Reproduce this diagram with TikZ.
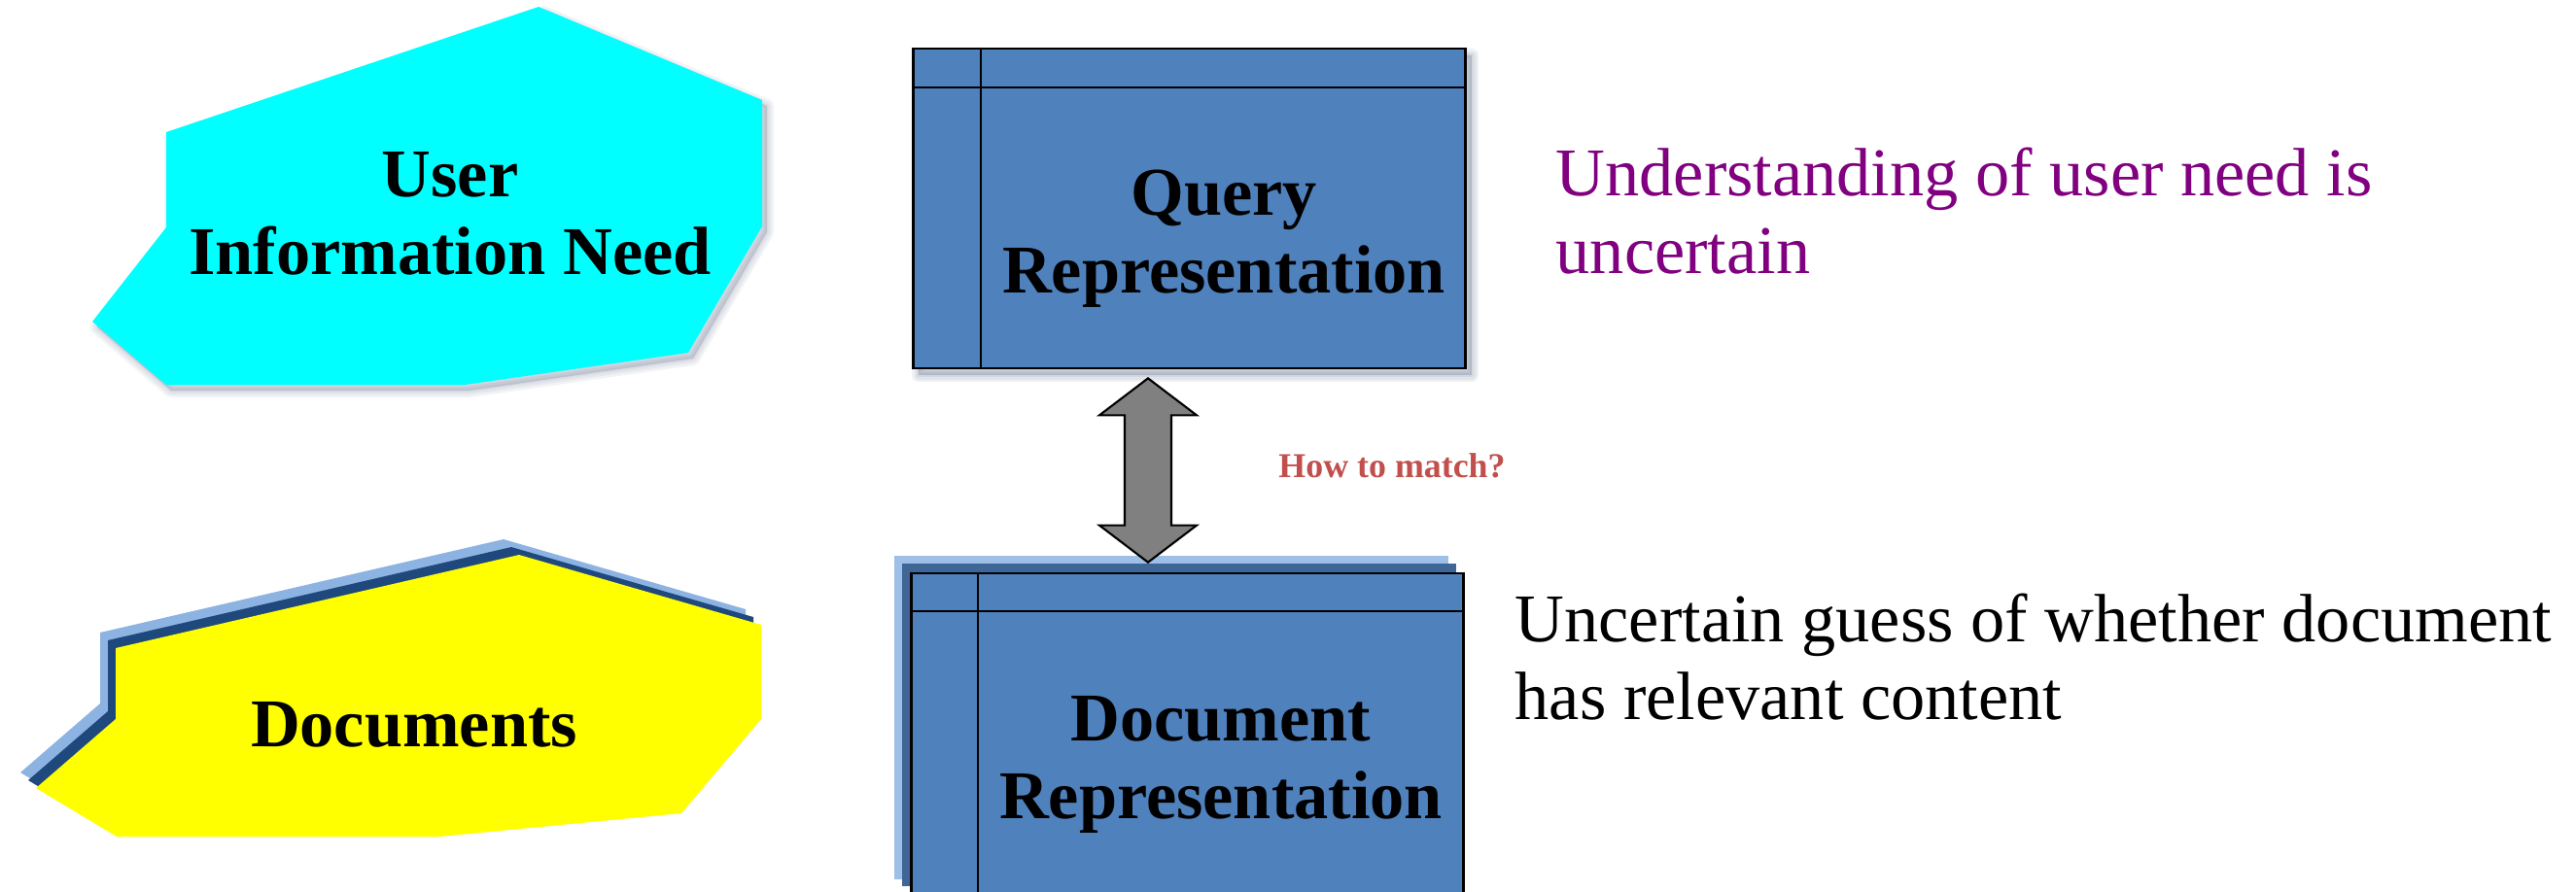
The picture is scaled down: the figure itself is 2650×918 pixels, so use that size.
\documentclass[tikz,border=0pt]{standalone}
\usepackage{fontspec}
\setmainfont{Liberation Serif}
\usetikzlibrary{calc,positioning}
\definecolor{needcyan}{RGB}{0,255,255}
\definecolor{docyellow}{RGB}{255,255,0}
\definecolor{repblue}{RGB}{79,129,189}
\definecolor{stackdark}{RGB}{31,73,125}
\definecolor{stacklight}{RGB}{141,179,226}
\definecolor{repdark}{RGB}{62,102,150}
\definecolor{replight}{RGB}{157,191,232}
\definecolor{shadowblue}{RGB}{35,55,95}
\definecolor{matchred}{RGB}{192,80,77}
\definecolor{notepurple}{RGB}{128,0,128}

\begin{document}
\begin{tikzpicture}[x=0.01cm,y=-0.01cm,
    bigtext/.style={font=\fontsize{20}{22.7}\selectfont\bfseries,align=center,inner sep=0pt},
    notetext/.style={font=\fontsize{20}{22.7}\selectfont,align=left,anchor=west,inner sep=0pt},
    repbox/.style={draw=black,line width=0.7pt,fill=repblue,inner sep=0pt,minimum width=5.68cm},
    gridline/.style={black,line width=0.5pt},
    matcharrow/.style={draw=black,fill=gray,line width=0.6pt,line join=miter}]
  \useasboundingbox (0,0) rectangle (2650,918);

  % user need: cyan blob with a soft shadow
  \foreach \w in {14,9,4}
    \filldraw[shadowblue,opacity=0.06,line width=\w*0.01cm,line join=round,shift={(5,6)}]
      (554,7) -- (784,103) -- (784,233) -- (708,363) -- (478,396) -- (171,396) -- (95,331) -- (171,234) -- (171,136) -- cycle;
  \fill[needcyan] (554,7) -- (784,103) -- (784,233) -- (708,363) -- (478,396) -- (171,396) -- (95,331) -- (171,234) -- (171,136) -- cycle;
  \node[bigtext] (need) at (463,220) {User\\Information Need};

  % documents: yellow blob on two stacked copies
  \fill[stacklight,shift={(-16,-16)}] (534,571) -- (783,643) -- (783,740) -- (701,837) -- (452,861) -- (120,861) -- (37,811) -- (119,740) -- (119,667) -- cycle;
  \fill[stackdark,shift={(-8,-8)}] (534,571) -- (783,643) -- (783,740) -- (701,837) -- (452,861) -- (120,861) -- (37,811) -- (119,740) -- (119,667) -- cycle;
  \fill[docyellow] (534,571) -- (783,643) -- (783,740) -- (701,837) -- (452,861) -- (120,861) -- (37,811) -- (119,740) -- (119,667) -- cycle;
  \node[bigtext] (docs) at (426,746) {Documents};

  % query representation
  \foreach \w in {14,9,4}
    \filldraw[shadowblue,opacity=0.07,line width=\w*0.01cm,line join=round] (945,57) rectangle (1514,386);
  \node[repbox,minimum height=3.29cm] (query) at (1223.5,214.5) {};
  \draw[gridline] ($(query.north west)+(71,0)$) -- ($(query.south west)+(71,0)$);
  \draw[gridline] ($(query.north west)+(0,41)$) -- ($(query.north east)+(0,41)$);
  \node[bigtext] (qtext) at (1259,246) {Query\\Representation};

  % document representation, stacked pages
  \fill[replight] (920,572) rectangle (1490,905);
  \fill[repdark] (928,580) rectangle (1498,912);
  \node[repbox,minimum height=3.45cm] (docrep) at (1221.5,762.5) {};
  \draw[gridline] ($(docrep.north west)+(70,0)$) -- ($(docrep.south west)+(70,0)$);
  \draw[gridline] ($(docrep.north west)+(0,40)$) -- ($(docrep.north east)+(0,40)$);
  \node[bigtext] (dtext) at (1256,787) {Document\\Representation};

  % matching arrow between the two representations
  \coordinate (qa) at ($(query.south)+(-42.5,9)$);
  \coordinate (da) at ($(docrep.north)+(-40.5,-10)$);
  \draw[matcharrow] (qa) -- ++(50,38) -- ++(-26,0) -- ($(da)+(24,-38)$) -- ++(26,0) -- (da)
    -- ++(-50,-38) -- ++(26,0) -- ($(qa)+(-24,38)$) -- ++(-26,0) -- cycle;
  \node[font=\fontsize{10.2}{12}\selectfont\bfseries,text=matchred,inner sep=0pt] (howto) at (1432,479) {How to match?};

  % remarks
  \node[notetext,text=notepurple] (qnote) at (1600,217) {Understanding of user need is\\uncertain};
  \node[notetext] (dnote) at (1558,676) {Uncertain guess of whether document\\has relevant content};
\end{tikzpicture}
\end{document}
